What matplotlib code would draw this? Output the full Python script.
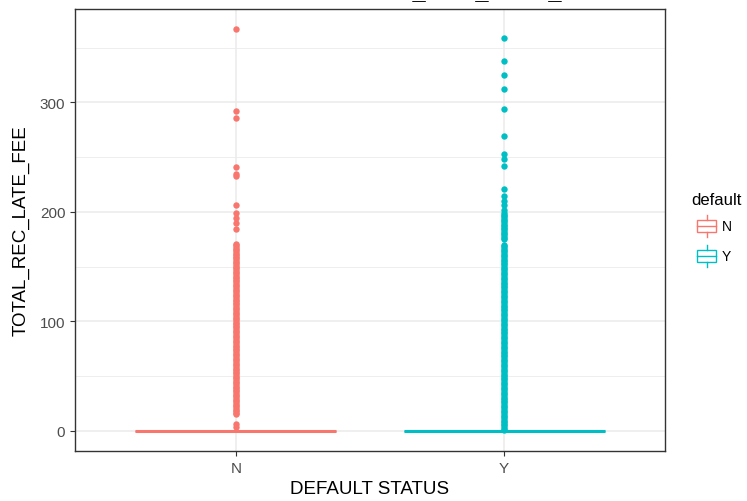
import matplotlib.pyplot as plt
from matplotlib.patches import Rectangle
from matplotlib.lines import Line2D

plt.rcParams['font.family'] = ['Liberation Sans', 'DejaVu Sans']

groups = ['N', 'Y']
colors = {'N': '#F8766D', 'Y': '#00BFC4'}

# quartiles / median / whiskers are all ~0 for both groups
box_stats = {'N': (0, 0, 0), 'Y': (0, 0, 0)}

# outliers (the dense part is a solid column of points)
out_N = [367, 292, 286, 241, 235, 233, 206, 199, 194.5, 190, 184,
         171, 169.5, 168, 166.5, 165, 163.5, 162, 160.5, 159, 157.5, 156,
         154.5, 153, 151.5, 150, 148.5, 147, 145.5, 144, 142.5, 141, 139.5,
         138, 136.5, 135, 133.5, 132, 130.5, 129, 127.5, 126, 124.5, 123,
         121.5, 120, 118.5, 117, 115.5, 114, 112.5, 111, 109.5, 108, 106.5,
         105, 103.5, 102, 100.5, 99, 97.5, 96, 94.5, 93, 91.5, 90, 88.5, 87,
         85.5, 84, 82.5, 81, 79.5, 78, 76.5, 75, 73.5, 72, 70.5, 69, 67.5,
         66, 64.5, 63, 61.5, 60, 58.5, 57, 55.5, 54, 52.5, 51, 49.5, 48,
         46.5, 45, 43.5, 42, 40.5, 39, 37.5, 36, 34.5, 33, 31.5, 30, 28.5,
         27, 25.5, 24, 22.5, 21, 19.5, 18, 16.5, 15, 6, 4]
out_Y = [359, 338, 325, 312, 294, 269, 253, 248, 242, 221, 214.5, 210, 206,
         202, 199, 197.5, 196, 194.5, 193, 191.5, 190, 188.5, 187, 185.5,
         184, 182.5, 181, 179.5, 178, 176.5, 175,
         170, 168.5, 167, 165.5, 164, 162.5, 161, 159.5, 158, 156.5, 155,
         153.5, 152, 150.5, 149, 147.5, 146, 144.5, 143, 141.5, 140, 138.5,
         137, 135.5, 134, 132.5, 131, 129.5, 128, 126.5, 125, 123.5, 122,
         120.5, 119, 117.5, 116, 114.5, 113, 111.5, 110, 108.5, 107, 105.5,
         104, 102.5, 101, 99.5, 98, 96.5, 95, 93.5, 92, 90.5, 89, 87.5, 86,
         84.5, 83, 81.5, 80, 78.5, 77, 75.5, 74, 72.5, 71, 69.5, 68, 66.5,
         65, 63.5, 62, 60.5, 59, 57.5, 56, 54.5, 53, 51.5, 50, 48.5, 47,
         45.5, 44, 42.5, 41, 39.5, 38, 36.5, 35, 33.5, 32, 30.5, 29, 27.5,
         26, 24.5, 23, 21.5, 20, 18.5, 17, 15.5, 14, 12.5, 11, 9.5, 8, 6.5,
         5, 3.5, 2, 0.5]
outliers = {'N': out_N, 'Y': out_Y}

y_ticks = [0, 100, 200, 300]
y_minor = [50, 150, 250, 350]

fig = plt.figure(figsize=(7.47, 5.02), dpi=100)
ax = fig.add_axes([75 / 747, 50 / 502, 590 / 747, 442 / 502])

ymax = max(out_N + out_Y)
pad = ymax * 0.05
ax.set_ylim(-pad, ymax + pad)
ax.set_xlim(0.4, 2.6)

# grid
for v in y_minor:
    ax.axhline(v, color='#EBEBEB', lw=0.6, zorder=0)
for v in y_ticks:
    ax.axhline(v, color='#EBEBEB', lw=1.1, zorder=0)
for i in range(len(groups)):
    ax.axvline(i + 1, color='#EBEBEB', lw=1.1, zorder=0)

for i, g in enumerate(groups):
    x = i + 1
    q1, med, q3 = box_stats[g]
    c = colors[g]
    ax.plot([x, x], [q1, q3], color=c, lw=1, zorder=2)
    ax.add_patch(Rectangle((x - 0.375, q1), 0.75, q3 - q1, fill=False,
                           edgecolor=c, lw=1, zorder=2))
    ax.plot([x - 0.375, x + 0.375], [med, med], color=c, lw=2.2,
            solid_capstyle='butt', zorder=3)
    ax.plot([x] * len(outliers[g]), outliers[g], 'o', color=c, ms=4.6,
            mec='none', zorder=4)

ax.set_xticks([1, 2])
ax.set_xticklabels(groups)
ax.set_yticks(y_ticks)
ax.tick_params(colors='#333333', labelcolor='#4D4D4D', labelsize=11,
               length=3.5, width=0.8)
for s in ax.spines.values():
    s.set_color('#333333')
    s.set_linewidth(1.0)

ax.set_xlabel('DEFAULT STATUS', fontsize=13.5, labelpad=4)
ax.set_ylabel('TOTAL_REC_LATE_FEE', fontsize=13.5, labelpad=7)

# title cut off at the top of the image: only the underscores peek in
fig.text(0.633, 1.0 + 2 / 502, 'TOTAL_REC_LATE_FEE', fontsize=17,
         fontweight='bold', ha='center', va='baseline')

# legend drawn by hand as boxplot glyphs
fig.text(691 / 747, 1 - 201 / 502, 'default', fontsize=12, va='center')
for g, yc in zip(groups, [227, 257]):
    c = colors[g]
    x0, x1 = 697 / 747, 716 / 747
    xm = (x0 + x1) / 2
    hb = 6 / 502
    yf = 1 - yc / 502
    fig.add_artist(Rectangle((x0, yf - hb), x1 - x0, 2 * hb, fill=False,
                             edgecolor=c, lw=1, transform=fig.transFigure))
    fig.add_artist(Line2D([x0, x1], [yf, yf], color=c, lw=1,
                          transform=fig.transFigure))
    fig.add_artist(Line2D([xm, xm], [yf + hb, yf + 11 / 502], color=c, lw=1,
                          transform=fig.transFigure))
    fig.add_artist(Line2D([xm, xm], [yf - hb, yf - 11 / 502], color=c, lw=1,
                          transform=fig.transFigure))
    fig.text(722 / 747, yf, g, fontsize=10, va='center')

fig.savefig('out.png', dpi=100)
